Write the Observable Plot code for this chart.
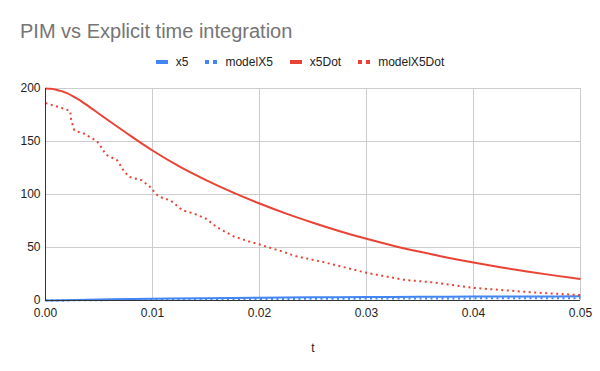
<!DOCTYPE html>
<html>
<head>
<meta charset="utf-8">
<script src="https://cdn.jsdelivr.net/npm/d3@7"></script>
<script src="https://cdn.jsdelivr.net/npm/@observablehq/plot@0.6"></script>
<style>
  html, body { margin: 0; padding: 0; background: #fff; }
  body { width: 600px; height: 371px; position: relative; overflow: hidden; font-family: "Liberation Sans", Arial, sans-serif; }
  #title { position: absolute; left: 20px; top: 19px; font-size: 20px; line-height: 24px; color: #757575; white-space: nowrap; }
  #legend { position: absolute; left: 0; width: 600px; top: 54px; height: 16px; line-height: 16px; display: flex; justify-content: center; align-items: center; font-size: 12px; color: #222; white-space: nowrap; }
  .item { display: flex; align-items: center; margin: 0 8.5px; }
  .sw { width: 12px; height: 4px; margin-right: 8px; }
  #chart { position: absolute; left: 0; top: 72px; }
</style>
</head>
<body>
<div id="title">PIM vs Explicit time integration</div>
<div id="legend"></div>
<div id="chart"></div>
<script>
// ---- data ----
const seriesNames = ["x5", "modelX5", "x5Dot", "modelX5Dot"];
const seriesColors = ["#4285f4", "#4285f4", "#ea4335", "#ea4335"];
const seriesDotted = [false, true, false, true];

const xTicks = [0, 0.01, 0.02, 0.03, 0.04, 0.05];
const yTicks = [0, 50, 100, 150, 200];

const tX5 = [0, 0.005, 0.01, 0.015, 0.02, 0.025, 0.03, 0.035, 0.04, 0.045, 0.05];
const x5 = [0, 0.9, 1.6, 2.1, 2.6, 3.0, 3.3, 3.5, 3.7, 3.8, 3.9];
const modelX5 = [0, 0.3, 0.7, 1.0, 1.3, 1.6, 1.8, 1.9, 2.0, 2.1, 2.1];

const tX5Dot = [0, 0.0005, 0.001, 0.0015, 0.002, 0.0025, 0.003, 0.004, 0.005, 0.0075, 0.01, 0.0125, 0.015, 0.0175, 0.02, 0.0225, 0.025, 0.0275, 0.03, 0.0325, 0.035, 0.0375, 0.04, 0.0425, 0.045, 0.0475, 0.05];
const x5Dot = [200, 199.7, 198.9, 197.5, 195.6, 193.1, 190.2, 183.4, 176.2, 158.5, 141.5, 126.5, 113.6, 102, 91.5, 82, 73.4, 65.4, 58.2, 51.7, 45.9, 40.6, 35.8, 31.4, 27.4, 23.7, 20.3];

const tModelX5Dot = [0, 0.0014, 0.0023, 0.0024, 0.0027, 0.0036, 0.0048, 0.0053, 0.0056, 0.0067, 0.0073, 0.0078, 0.0090, 0.0098, 0.0103, 0.0107, 0.0117, 0.0128, 0.0139, 0.015, 0.016, 0.0176, 0.0192, 0.0201, 0.0223, 0.0229, 0.0235, 0.026, 0.03, 0.0336, 0.036, 0.0401, 0.0453, 0.05];
const modelX5Dot = [186.3, 182, 178.9, 170.1, 160.4, 157.4, 150.4, 143.3, 137.9, 132.3, 122.5, 116.6, 113.4, 107, 100.6, 97.6, 94.4, 85.1, 81.9, 77.2, 69.2, 60.4, 55.1, 52.6, 45.6, 43.5, 41.6, 36.2, 26.1, 19.4, 17.3, 11.8, 7.8, 5.1];

// ---- build tables ----
const rowsX5 = tX5.map((t, i) => ({t, v: x5[i]}));
const rowsModelX5 = tX5.map((t, i) => ({t, v: modelX5[i]}));
const rowsX5Dot = tX5Dot.map((t, i) => ({t, v: x5Dot[i]}));
const rowsModelX5Dot = tModelX5Dot.map((t, i) => ({t, v: modelX5Dot[i]}));

// ---- legend ----
const legend = document.getElementById("legend");
seriesNames.forEach((name, i) => {
  const item = document.createElement("div");
  item.className = "item";
  const sw = document.createElement("div");
  sw.className = "sw";
  const c = seriesColors[i];
  sw.style.background = seriesDotted[i]
    ? `linear-gradient(to right, ${c} 0 4px, transparent 4px 8px, ${c} 8px 12px)`
    : c;
  const label = document.createElement("span");
  label.textContent = name;
  item.appendChild(sw);
  item.appendChild(label);
  legend.appendChild(item);
});

// ---- chart ----
const dash = "2,3.5";
const lineOpts = {x: "t", y: "v", strokeWidth: 2, strokeLinecap: "butt", strokeLinejoin: "round"};
const chart = Plot.plot({
  width: 600,
  height: 299,
  marginTop: 16,
  marginLeft: 45,
  marginRight: 20,
  marginBottom: 71,
  style: {fontFamily: "'Liberation Sans', Arial, sans-serif", fontSize: "12px", color: "#222", background: "white", overflow: "visible"},
  x: {domain: [0, 0.05]},
  y: {domain: [0, 200]},
  marks: [
    Plot.gridX(xTicks, {stroke: "#cccccc", strokeOpacity: 1}),
    Plot.gridY(yTicks, {stroke: "#cccccc", strokeOpacity: 1}),
    Plot.axisX(xTicks, {tickSize: 0, tickPadding: 8, tickFormat: d3.format(".2f"), label: "t", labelAnchor: "center", labelArrow: "none", labelOffset: 51, fill: "#222"}),
    Plot.axisY(yTicks, {tickSize: 0, tickPadding: 5, label: null, fill: "#222"}),
    Plot.line(rowsX5, {...lineOpts, stroke: seriesColors[0], curve: "monotone-x"}),
    Plot.line(rowsModelX5, {...lineOpts, stroke: seriesColors[1], strokeDasharray: dash, curve: "monotone-x"}),
    Plot.line(rowsX5Dot, {...lineOpts, stroke: seriesColors[2], curve: "monotone-x"}),
    Plot.line(rowsModelX5Dot, {...lineOpts, stroke: seriesColors[3], strokeDasharray: dash, curve: "linear"}),
    Plot.ruleY([0], {stroke: "#333"}),
    Plot.ruleX([0], {stroke: "#333"})
  ]
});
document.getElementById("chart").appendChild(chart);
</script>
</body>
</html>
